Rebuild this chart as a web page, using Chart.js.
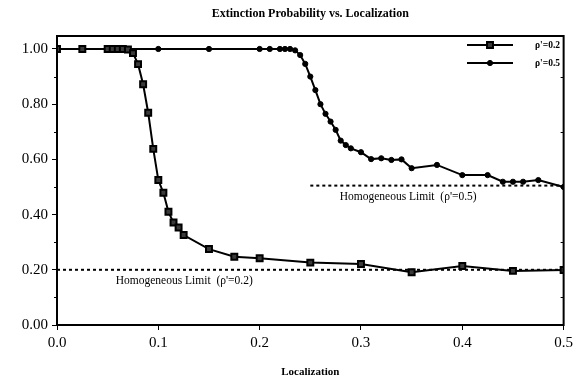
<!DOCTYPE html>
<html>
<head>
<meta charset="utf-8">
<script src="https://cdn.jsdelivr.net/npm/chart.js@4/dist/chart.umd.min.js"></script>
<style>
  html, body { margin: 0; padding: 0; background: #fff; }
  #wrap { width: 577px; height: 379px; }
</style>
</head>
<body>
<div id="wrap"><canvas id="c" width="577" height="379"></canvas></div>
<script>
// ---- data ----
const xLow  = [0, 0.025, 0.05, 0.055, 0.06, 0.065, 0.07, 0.075, 0.08, 0.085, 0.09, 0.095, 0.1, 0.105, 0.11, 0.115, 0.12, 0.125, 0.15, 0.175, 0.2, 0.25, 0.3, 0.35, 0.4, 0.45, 0.5];
const pLow  = [1.0, 1.0, 1.0, 1.0, 1.0, 1.0, 0.998, 0.985, 0.945, 0.872, 0.769, 0.638, 0.525, 0.479, 0.41, 0.371, 0.353, 0.326, 0.275, 0.247, 0.242, 0.226, 0.221, 0.191, 0.214, 0.196, 0.199];
const xHigh = [0, 0.1, 0.15, 0.2, 0.21, 0.22, 0.225, 0.23, 0.235, 0.24, 0.245, 0.25, 0.255, 0.26, 0.265, 0.27, 0.275, 0.28, 0.285, 0.29, 0.3, 0.31, 0.32, 0.33, 0.34, 0.35, 0.375, 0.4, 0.425, 0.44, 0.45, 0.46, 0.475, 0.5];
const pHigh = [1.0, 1.0, 1.0, 1.0, 1.0, 1.0, 1.0, 1.0, 0.995, 0.978, 0.946, 0.90, 0.851, 0.80, 0.765, 0.737, 0.707, 0.668, 0.652, 0.64, 0.626, 0.601, 0.604, 0.598, 0.600, 0.568, 0.580, 0.543, 0.543, 0.519, 0.519, 0.519, 0.525, 0.50];
const limitLowX  = [0, 0.5];
const limitLowY  = [0.2, 0.2];
const limitHighX = [0.25, 0.5];
const limitHighY = [0.505, 0.505];
const xTickVals = [0, 0.1, 0.2, 0.3, 0.4, 0.5];
const yTickVals = [0, 0.2, 0.4, 0.6, 0.8, 1.0];
const yMinorVals = [0.1, 0.3, 0.5, 0.7, 0.9];
const seriesNames = ["\u03C1'=0.2", "\u03C1'=0.5"];
const limitNames = ["Homogeneous Limit  (\u03C1'=0.2)", "Homogeneous Limit  (\u03C1'=0.5)"];
const titleText = "Extinction Probability vs. Localization";
const xTitleText = "Localization";

const pts = (xs, ys) => xs.map((x, i) => ({ x: x, y: ys[i] }));
const SERIF = "'Liberation Serif', 'DejaVu Serif', serif";

const bgPlugin = {
  id: 'bg',
  beforeDraw(chart) {
    const ctx = chart.ctx;
    ctx.save(); ctx.fillStyle = '#fff'; ctx.fillRect(0, 0, chart.width, chart.height); ctx.restore();
  }
};

const decorPlugin = {
  id: 'decor',
  afterDraw(chart) {
    const ctx = chart.ctx, a = chart.chartArea;
    const xs = chart.scales.x, ys = chart.scales.y;
    ctx.save();
    // frame
    ctx.strokeStyle = '#000'; ctx.lineWidth = 2;
    ctx.strokeRect(a.left, a.top, a.right - a.left, a.bottom - a.top);
    // minor y ticks
    ctx.lineWidth = 1;
    yMinorVals.forEach(v => {
      const y = Math.round(ys.getPixelForValue(v)) + 0.5;
      ctx.beginPath(); ctx.moveTo(a.left - 3, y); ctx.lineTo(a.left, y); ctx.stroke();
      ctx.beginPath(); ctx.moveTo(a.right, y); ctx.lineTo(a.right - 3, y); ctx.stroke();
    });
    // title
    ctx.fillStyle = '#000';
    ctx.textAlign = 'center'; ctx.textBaseline = 'middle';
    ctx.font = "bold 12px " + SERIF;
    ctx.fillText(titleText, (a.left + a.right) / 2, 14);
    // limit labels
    ctx.font = "11.5px " + SERIF;
    ctx.textAlign = 'left';
    ctx.fillText(limitNames[0], xs.getPixelForValue(0.058), ys.getPixelForValue(0.2) + 11);
    ctx.fillText(limitNames[1], xs.getPixelForValue(0.279), ys.getPixelForValue(0.505) + 11);
    // legend
    const ds = chart.data.datasets;
    const lx0 = 467, lx1 = 513, ly = [45, 63];
    [0, 1].forEach(i => {
      const d = ds[i];
      ctx.strokeStyle = '#000'; ctx.lineWidth = 2;
      ctx.beginPath(); ctx.moveTo(lx0, ly[i]); ctx.lineTo(lx1, ly[i]); ctx.stroke();
      ctx.fillStyle = d.pointBackgroundColor; ctx.strokeStyle = d.pointBorderColor;
      ctx.lineWidth = d.pointBorderWidth;
      Chart.helpers.drawPoint(ctx, {
        pointStyle: d.pointStyle, radius: d.pointRadius, borderWidth: d.pointBorderWidth, rotation: 0
      }, (lx0 + lx1) / 2, ly[i]);
      ctx.fillStyle = '#000';
      ctx.font = "bold 9.5px " + SERIF;
      ctx.textAlign = 'left';
      ctx.fillText(seriesNames[i], 535, ly[i] + 1);
    });
    ctx.restore();
  }
};

new Chart(document.getElementById('c'), {
  type: 'scatter',
  data: {
    datasets: [
      { label: seriesNames[0], data: pts(xLow, pLow), showLine: true, borderColor: '#000', borderWidth: 2,
        pointStyle: 'rect', pointRadius: 4.2, pointBackgroundColor: '#3a3a3a', pointBorderColor: '#000', pointBorderWidth: 2, order: 1 },
      { label: seriesNames[1], data: pts(xHigh, pHigh), showLine: true, borderColor: '#000', borderWidth: 2,
        pointStyle: 'circle', pointRadius: 2.6, pointBackgroundColor: '#000', pointBorderColor: '#000', pointBorderWidth: 1, order: 2 },
      { label: limitNames[0], data: pts(limitLowX, limitLowY), showLine: true, borderColor: '#000', borderWidth: 2,
        borderDash: [3, 3], pointRadius: 0, order: 3 },
      { label: limitNames[1], data: pts(limitHighX, limitHighY), showLine: true, borderColor: '#000', borderWidth: 2,
        borderDash: [3, 3], pointRadius: 0, order: 3 }
    ]
  },
  options: {
    responsive: false,
    animation: false,
    devicePixelRatio: 1,
    layout: { padding: { top: 36, right: 10, left: 0, bottom: 0 } },
    plugins: { legend: { display: false }, tooltip: { enabled: false }, title: { display: false } },
    scales: {
      x: {
        type: 'linear', min: 0, max: 0.5,
        afterBuildTicks: s => { s.ticks = xTickVals.map(v => ({ value: v })); },
        afterFit: s => { s.height = 54; },
        ticks: { color: '#000', font: { family: SERIF, size: 15 }, padding: 4, callback: v => Number(v).toFixed(1), maxRotation: 0 },
        grid: { display: true, drawOnChartArea: false, drawTicks: true, tickLength: 5, color: '#000', lineWidth: 1 },
        border: { display: true, color: '#000', width: 2 },
        title: { display: true, text: xTitleText, color: '#000', font: { family: SERIF, size: 11, weight: 'bold' }, padding: { top: 8, bottom: 0 } }
      },
      y: {
        type: 'linear', min: 0, max: 1.047,
        afterBuildTicks: s => { s.ticks = yTickVals.map(v => ({ value: v })); },
        afterFit: s => { s.width = 57; },
        ticks: { color: '#000', font: { family: SERIF, size: 15 }, padding: 4, callback: v => Number(v).toFixed(2) },
        grid: { display: true, drawOnChartArea: false, drawTicks: true, tickLength: 5, color: '#000', lineWidth: 1 },
        border: { display: true, color: '#000', width: 2 }
      }
    }
  },
  plugins: [bgPlugin, decorPlugin]
});
</script>
</body>
</html>
